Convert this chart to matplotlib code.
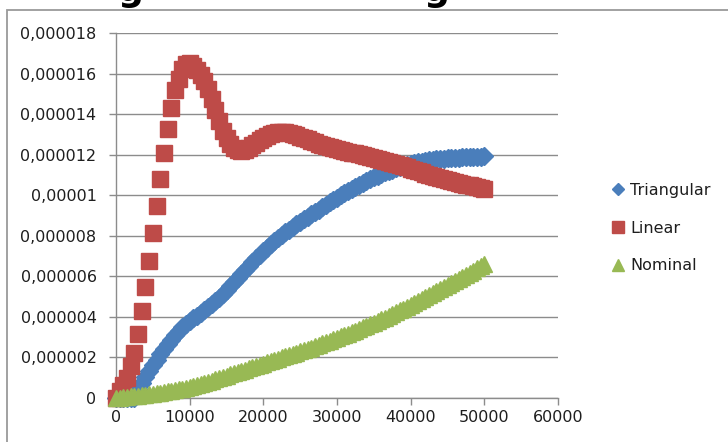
import numpy as np
import matplotlib
matplotlib.use("Agg")
import matplotlib.pyplot as plt
from matplotlib.lines import Line2D
from matplotlib.patches import Rectangle

# load position (x) and response values (in units of 1e-6)
x_values = np.arange(0, 50001, 500)

triangular = [
    0.00, 0.00, 0.00, 0.00, 0.00, 0.00, 0.45, 0.75, 1.05, 1.35,
    1.62, 1.90, 2.15, 2.40, 2.65, 2.88, 3.10, 3.30, 3.48, 3.65,
    3.80, 3.94, 4.07, 4.20, 4.33, 4.47, 4.62, 4.78, 4.95, 5.13,
    5.32, 5.52, 5.72, 5.92, 6.12, 6.32, 6.52, 6.71, 6.90, 7.08,
    7.25, 7.42, 7.58, 7.74, 7.89, 8.03, 8.17, 8.31, 8.44, 8.57,
    8.70, 8.82, 8.94, 9.06, 9.18, 9.30, 9.42, 9.54, 9.66, 9.78,
    9.89, 10.00, 10.11, 10.22, 10.33, 10.43, 10.53, 10.63, 10.72, 10.81,
    10.90, 10.98, 11.06, 11.13, 11.20, 11.27, 11.33, 11.39, 11.45, 11.50,
    11.55, 11.59, 11.63, 11.67, 11.70, 11.73, 11.76, 11.78, 11.80, 11.82,
    11.84, 11.85, 11.86, 11.87, 11.88, 11.89, 11.90, 11.90, 11.91, 11.91,
    11.92,
]

linear = [
    0.00, 0.35, 0.64, 1.00, 1.58, 2.24, 3.18, 4.27, 5.49, 6.74,
    8.13, 9.46, 10.82, 12.10, 13.27, 14.31, 15.18, 15.76, 16.26, 16.50,
    16.55, 16.40, 16.20, 15.95, 15.65, 15.25, 14.75, 14.20, 13.65, 13.20,
    12.85, 12.55, 12.35, 12.22, 12.20, 12.25, 12.35, 12.48, 12.60, 12.72,
    12.84, 12.94, 13.02, 13.08, 13.11, 13.12, 13.11, 13.08, 13.03, 12.97,
    12.90, 12.83, 12.76, 12.69, 12.62, 12.56, 12.50, 12.44, 12.39, 12.34,
    12.29, 12.24, 12.19, 12.15, 12.11, 12.07, 12.03, 11.99, 11.95, 11.91,
    11.87, 11.82, 11.77, 11.72, 11.67, 11.62, 11.56, 11.50, 11.44, 11.38,
    11.32, 11.26, 11.20, 11.14, 11.08, 11.02, 10.96, 10.90, 10.85, 10.80,
    10.75, 10.70, 10.65, 10.61, 10.57, 10.53, 10.49, 10.45, 10.41, 10.37,
    10.33,
]

nominal = [
    0.00, 0.02, 0.04, 0.06, 0.08, 0.10, 0.12, 0.14, 0.17, 0.19,
    0.22, 0.24, 0.27, 0.30, 0.33, 0.36, 0.39, 0.42, 0.45, 0.49,
    0.53, 0.58, 0.63, 0.68, 0.74, 0.80, 0.86, 0.92, 0.98, 1.04,
    1.10, 1.16, 1.22, 1.28, 1.34, 1.40, 1.46, 1.52, 1.58, 1.64,
    1.70, 1.76, 1.82, 1.88, 1.94, 2.00, 2.06, 2.12, 2.18, 2.24,
    2.30, 2.36, 2.42, 2.48, 2.55, 2.62, 2.69, 2.76, 2.83, 2.90,
    2.97, 3.04, 3.11, 3.18, 3.25, 3.32, 3.40, 3.48, 3.56, 3.64,
    3.72, 3.80, 3.88, 3.96, 4.05, 4.14, 4.23, 4.32, 4.41, 4.50,
    4.59, 4.68, 4.78, 4.88, 4.98, 5.08, 5.18, 5.28, 5.38, 5.48,
    5.58, 5.68, 5.78, 5.88, 5.98, 6.08, 6.18, 6.29, 6.40, 6.51,
    6.62,
]

series_names = ["Triangular", "Linear", "Nominal"]
unit = 1e-6

x_ticks = [0, 10000, 20000, 30000, 40000, 50000, 60000]
x_tick_labels = ["0", "10000", "20000", "30000", "40000", "50000", "60000"]
y_ticks = [0, 0.000002, 0.000004, 0.000006, 0.000008, 0.00001,
           0.000012, 0.000014, 0.000016, 0.000018]
y_tick_labels = ["0", "0,000002", "0,000004", "0,000006", "0,000008",
                 "0,00001", "0,000012", "0,000014", "0,000016", "0,000018"]

BLUE = "#4A7EBB"
RED = "#BE4B48"
GREEN = "#98B954"
GRID = "#8C8C8C"
TEXT = "#1E1E1E"

plt.rcParams["font.family"] = ["DejaVu Sans"]

W, H = 728, 442
fig = plt.figure(figsize=(W / 100, H / 100), dpi=100)
fig.patch.set_facecolor("white")

# bottoms of the heading glyphs above the chart box
for gx in (117, 423):
    fig.text(gx / W, 1.0 - 0.5 / H, "g", fontsize=26, fontweight="bold",
             color="black", ha="left", va="baseline")

# chart area frame
fig.patches.append(Rectangle((7 / W, -0.2), 1.2, 1.2 - 10 / H,
                             transform=fig.transFigure, fill=False,
                             edgecolor="#9A9A9A", linewidth=1.3))

ax = fig.add_axes([116 / W, 1 - 398 / H, (558 - 116) / W, (398 - 33.3) / H])
ax.set_xlim(0, 60000)
ax.set_ylim(0, 0.000018)

ax.set_yticks(y_ticks)
ax.set_yticklabels(y_tick_labels)
ax.set_xticks(x_ticks)
ax.set_xticklabels(x_tick_labels)

ax.grid(axis="y", color=GRID, linewidth=1.0)
ax.set_axisbelow(True)
for side in ("top", "right"):
    ax.spines[side].set_visible(False)
for side in ("left", "bottom"):
    ax.spines[side].set_color(GRID)
    ax.spines[side].set_linewidth(1.0)

ax.tick_params(axis="y", length=5, width=1.0, color=GRID, pad=9,
               labelsize=11.5, labelcolor=TEXT)
ax.tick_params(axis="x", length=5, width=1.0, color=GRID, pad=4,
               labelsize=11.5, labelcolor=TEXT)

y_tri = np.array(triangular) * unit
y_lin = np.array(linear) * unit
y_nom = np.array(nominal) * unit

ax.plot(x_values, y_tri, linestyle="none", marker="D", markersize=9.5,
        color=BLUE, markeredgecolor=BLUE, clip_on=False, zorder=3)
ax.plot(x_values, y_lin, linestyle="none", marker="s", markersize=11,
        color=RED, markeredgecolor=RED, clip_on=False, zorder=4)
ax.plot(x_values, y_nom, linestyle="none", marker="^", markersize=11.5,
        color=GREEN, markeredgecolor=GREEN, clip_on=False, zorder=5)

handles = [
    Line2D([], [], linestyle="none", marker="D", markersize=6.5, color=BLUE),
    Line2D([], [], linestyle="none", marker="s", markersize=8.5, color=RED),
    Line2D([], [], linestyle="none", marker="^", markersize=9, color=GREEN),
]
leg = fig.legend(handles, series_names, loc="upper left",
                 bbox_to_anchor=(612 / W, 1 - 183 / H), frameon=False,
                 fontsize=11.5, handlelength=0.8, handletextpad=0.35,
                 labelspacing=1.42, borderaxespad=0, borderpad=0)
for t in leg.get_texts():
    t.set_color(TEXT)

fig.savefig("out.png", dpi=100, facecolor="white")
